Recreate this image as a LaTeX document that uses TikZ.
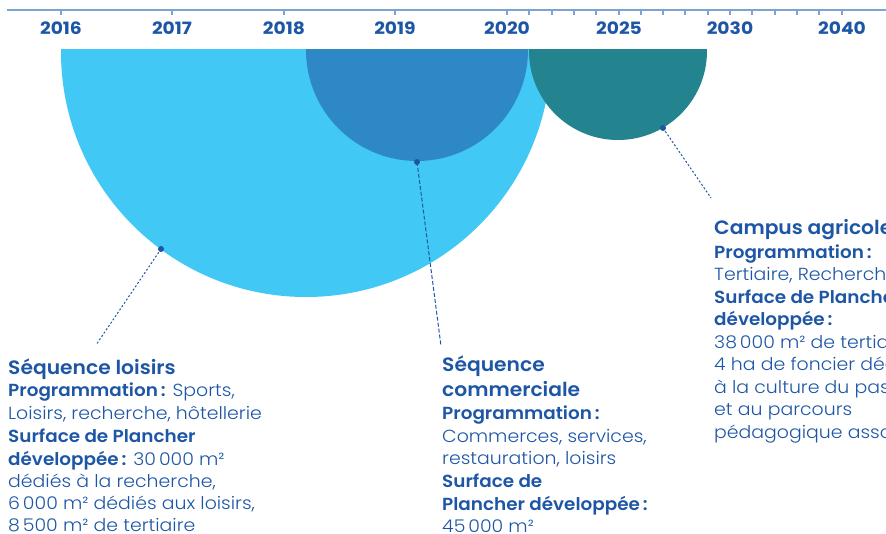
\documentclass[tikz,border=0pt]{standalone}
\usepackage{fontspec}
\setmainfont{Poppins}[UprightFont={* Light},BoldFont={* SemiBold},UprightFeatures={FakeStretch=1.08},BoldFeatures={FakeStretch=1.05}]
\newfontfamily\yearfont{Poppins}[UprightFont={* Bold},FakeStretch=1.1]
\definecolor{txtblue}{HTML}{1D56A5}
\definecolor{axisblue}{HTML}{7BA3D6}
\definecolor{lightc}{HTML}{41C8F4}
\definecolor{midc}{HTML}{2E88C6}
\definecolor{tealc}{HTML}{23838F}
\begin{document}
\begin{tikzpicture}[x=1pt,y=-1pt,
  yearlbl/.style={anchor=base,inner sep=0pt,text=txtblue,font=\yearfont\fontsize{17}{17}\selectfont},
  ttl/.style={anchor=base west,inner sep=0pt,text=txtblue,font=\fontsize{19.3}{19.3}\selectfont\bfseries},
  bodyln/.style={anchor=base west,inner sep=0pt,text=txtblue,font=\fontsize{17.5}{17.5}\selectfont},
  dotmark/.style={circle,fill=txtblue,inner sep=0pt,minimum size=6pt},
  lead/.style={draw=txtblue,line width=1pt},
]
\useasboundingbox (0,0) rectangle (886,534);
\clip (0,0) rectangle (886,534);
% circles
\begin{scope}
  \clip (0,50) rectangle (886,534);
  \fill[lightc] (306,52) circle (245pt);
  \fill[midc] (417,50) circle (111pt);
  \fill[tealc] (618,51) circle (89pt);
\end{scope}
% axis
\draw[axisblue,line width=1.5pt] (7,10) -- (886,10);
\foreach \x in {61,172,284,395,507,529,552,574,596,619,641,663,685,708,730,752,775,797,819,842}
  \draw[axisblue,line width=1.2pt] (\x,10) -- (\x,15);
\node[yearlbl] (y2016) at (61,35) {2016};
\node[yearlbl] (y2017) at (172,35) {2017};
\node[yearlbl] (y2018) at (284,35) {2018};
\node[yearlbl] (y2019) at (395,35) {2019};
\node[yearlbl] (y2020) at (507,35) {2020};
\node[yearlbl] (y2025) at (619,35) {2025};
\node[yearlbl] (y2030) at (730,35) {2030};
\node[yearlbl] (y2040) at (842,35) {2040};
% dots and leaders
\node[dotmark] (d1) at (161,249) {};
\node[dotmark] (d2) at (417,162) {};
\node[dotmark] (d3) at (663,128) {};
\coordinate (e1) at (96,345);
\coordinate (e2) at (441,346);
\coordinate (e3) at (711,198);
\draw[lead,dash pattern=on 2pt off 2pt] (d1.center) -- (e1);
\draw[lead,dash pattern=on 4pt off 2pt] (d2.center) -- (e2);
\draw[lead,dash pattern=on 2pt off 2pt] (d3.center) -- (e3);
% block 1
\node[ttl] (a0) at (8,374) {Séquence loisirs};
\node[bodyln] (a1) at (8,396.7) {\textbf{Programmation\,:} Sports,};
\node[bodyln] (a2) at (8,419.3) {Loisirs, recherche, hôtellerie};
\node[bodyln] (a3) at (8,442.7) {\textbf{Surface de Plancher}};
\node[bodyln] (a4) at (8,465) {\textbf{développée\,:} 30\,000 m²};
\node[bodyln] (a5) at (8,487) {dédiés à la recherche,};
\node[bodyln] (a6) at (8,509.3) {6\,000 m² dédiés aux loisirs,};
\node[bodyln] (a7) at (8,531.7) {8\,500 m² de tertiaire};
% block 2
\node[ttl] (b0) at (442,371.7) {Séquence};
\node[ttl] (b1) at (442,396) {commerciale};
\node[bodyln] (b2) at (442,419.3) {\textbf{Programmation\,:}};
\node[bodyln] (b3) at (442,442.7) {Commerces, services,};
\node[bodyln] (b4) at (442,464.5) {restauration, loisirs};
\node[bodyln] (b5) at (442,487.7) {\textbf{Surface de}};
\node[bodyln] (b6) at (442,510) {\textbf{Plancher développée\,:}};
\node[bodyln] (b7) at (442,532) {45\,000 m²};
% block 3
\node[ttl] (c0) at (714,235) {Campus agricole};
\node[bodyln] (c1) at (714,258.3) {\textbf{Programmation\,:}};
\node[bodyln] (c2) at (714,281) {Tertiaire, Recherche};
\node[bodyln] (c3) at (714,303.3) {\textbf{Surface de Plancher}};
\node[bodyln] (c4) at (714,326) {\textbf{développée\,:}};
\node[bodyln] (c5) at (714,348.3) {38\,000 m² de tertiaire};
\node[bodyln] (c6) at (714,370.5) {4 ha de foncier dédiés};
\node[bodyln] (c7) at (714,393) {à la culture du pastoralisme};
\node[bodyln] (c8) at (714,415.5) {et au parcours};
\node[bodyln] (c9) at (714,438) {pédagogique associé};
\end{tikzpicture}
\end{document}
